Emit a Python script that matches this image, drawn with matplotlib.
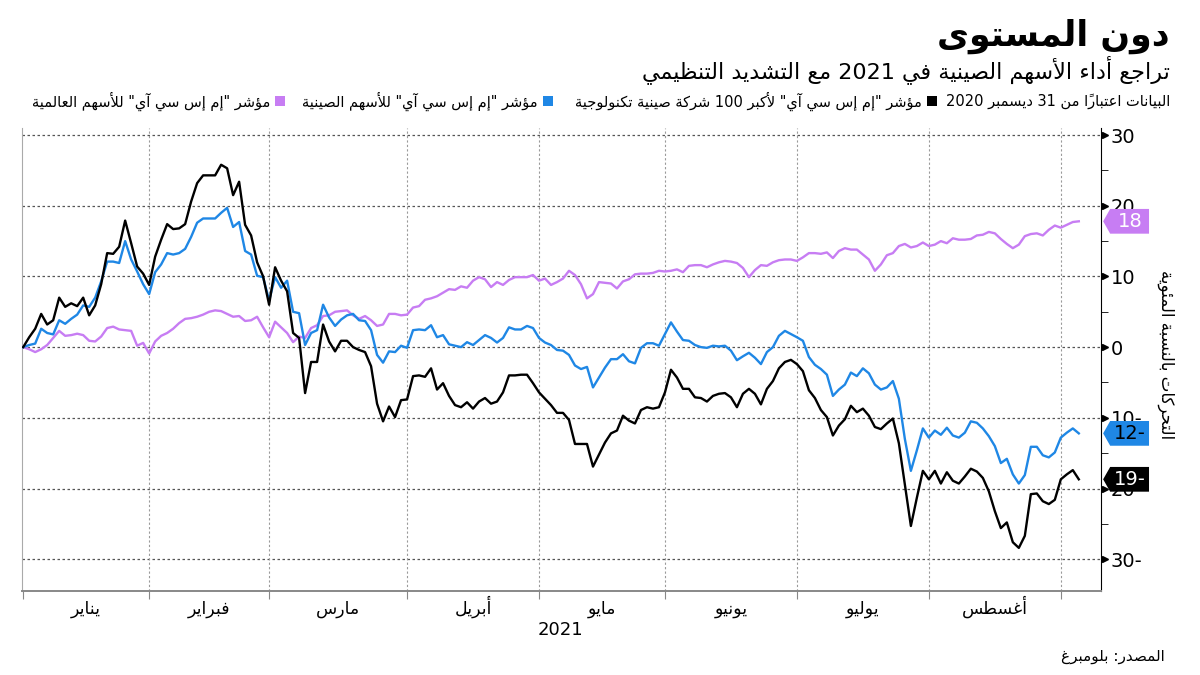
import matplotlib
matplotlib.use("Agg")
import matplotlib.pyplot as plt
from matplotlib.patches import Polygon, Rectangle
from matplotlib.ticker import MultipleLocator, FuncFormatter
import numpy as np
import pandas as pd

plt.rcParams['font.family'] = ['DejaVu Sans']

# texts
TITLE = "دون المستوى"
SUBTITLE = "تراجع أداء الأسهم الصينية في 2021 مع التشديد التنظيمي"
NOTE = "البيانات اعتباراً من 31 ديسمبر 2020"
LABELS = ['مؤشر "إم إس سي آي" لأكبر 100 شركة صينية تكنولوجية',
          'مؤشر "إم إس سي آي" للأسهم الصينية',
          'مؤشر "إم إس سي آي" للأسهم العالمية']
MONTHS = ["يناير", "فبراير", "مارس", "أبريل", "مايو", "يونيو", "يوليو", "أغسطس"]
YEAR = "2021"
YLABEL = "التحركات بالنسبة المئوية"
SOURCE = "المصدر: بلومبرغ"
COLORS = ["#000000", "#1f87e5", "#c77df3"]

# percent change since 31 Dec 2020, one value per business day
dates = pd.bdate_range("2020-12-31", "2021-09-03")
china_tech = [0, 1.4, 2.6, 4.7, 3.2, 3.8, 7.0, 5.7, 6.2, 5.8,
              7.0, 4.5, 5.9, 8.9, 13.3, 13.2, 14.2, 17.9, 14.7, 11.4,
              10.4, 8.8, 12.8, 15.2, 17.4, 16.7, 16.8, 17.4, 20.6, 23.2,
              24.3, 24.3, 24.3, 25.8, 25.3, 21.5, 23.4, 17.3, 15.8, 12.0,
              10.0, 6.0, 11.3, 9.4, 7.9, 2.0, 1.3, -6.5, -2.1, -2.1,
              3.2, 0.8, -0.6, 0.9, 0.9, 0.0, -0.4, -0.7, -2.7, -8.0,
              -10.5, -8.4, -9.9, -7.5, -7.4, -4.1, -4.0, -4.2, -3.0, -6.0,
              -5.1, -6.9, -8.2, -8.5, -7.8, -8.7, -7.7, -7.2, -8.0, -7.7,
              -6.4, -4.0, -4.0, -3.9, -3.9, -5.1, -6.4, -7.3, -8.2, -9.3,
              -9.3, -10.3, -13.7, -13.7, -13.7, -16.9, -15.2, -13.5, -12.2, -11.8,
              -9.7, -10.4, -10.8, -8.9, -8.5, -8.7, -8.5, -6.4, -3.2, -4.3,
              -5.9, -5.9, -7.1, -7.2, -7.7, -6.9, -6.6, -6.5, -7.1, -8.5,
              -6.6, -5.9, -6.6, -8.1, -5.9, -4.8, -3.0, -2.1, -1.8, -2.4,
              -3.4, -6.1, -7.2, -8.9, -9.9, -12.5, -11.1, -10.2, -8.3, -9.2,
              -8.7, -9.7, -11.3, -11.6, -10.8, -10.1, -13.6, -19.4, -25.3, -21.3,
              -17.5, -18.7, -17.5, -19.3, -17.7, -18.9, -19.3, -18.3, -17.2, -17.6,
              -18.5, -20.4, -23.2, -25.6, -24.8, -27.6, -28.4, -26.7, -20.8, -20.7,
              -21.8, -22.2, -21.6, -18.7, -18.0, -17.4, -18.7]
china = [0, 0.3, 0.5, 2.6, 2.0, 1.8, 3.8, 3.3, 4.0, 4.6,
         5.9, 5.7, 7.0, 9.3, 12.1, 12.1, 11.9, 15.0, 12.4, 10.7,
         8.9, 7.5, 10.6, 11.7, 13.3, 13.1, 13.3, 13.9, 15.6, 17.6,
         18.2, 18.2, 18.2, 19.0, 19.7, 17.0, 17.7, 13.6, 13.1, 10.1,
         9.9, 6.6, 9.9, 8.4, 9.4, 5.0, 4.8, 0.3, 2.0, 2.4,
         6.0, 4.2, 3.0, 3.9, 4.5, 4.7, 3.8, 3.7, 2.4, -1.1,
         -2.2, -0.6, -0.7, 0.2, -0.1, 2.4, 2.5, 2.4, 3.1, 1.4,
         1.7, 0.4, 0.2, 0.0, 0.7, 0.3, 1.0, 1.7, 1.3, 0.65,
         1.3, 2.8, 2.5, 2.5, 3.0, 2.7, 1.3, 0.65, 0.3, -0.4,
         -0.5, -1.1, -2.6, -3.1, -2.8, -5.7, -4.3, -2.9, -1.7, -1.7,
         -1.0, -2.0, -2.3, -0.1, 0.55, 0.55, 0.2, 1.85, 3.5, 2.2,
         1.0, 0.9, 0.3, 0.0, -0.1, 0.2, 0.1, 0.2, -0.5, -1.85,
         -1.3, -0.8, -1.5, -2.4, -0.7, 0.0, 1.6, 2.3, 1.85, 1.4,
         0.9, -1.4, -2.5, -3.1, -3.9, -6.9, -6.0, -5.3, -3.6, -4.1,
         -3.0, -3.7, -5.3, -6.0, -5.7, -4.8, -7.3, -13.0, -17.5, -14.6,
         -11.5, -12.8, -11.8, -12.4, -11.4, -12.5, -12.8, -12.1, -10.5, -10.7,
         -11.5, -12.6, -14.0, -16.4, -15.8, -18.0, -19.3, -18.1, -14.1, -14.1,
         -15.3, -15.6, -14.9, -12.8, -12.1, -11.5, -12.2]
world = [0, -0.3, -0.7, -0.3, 0.3, 1.3, 2.3, 1.6, 1.7, 1.9,
         1.7, 0.9, 0.8, 1.5, 2.7, 2.9, 2.5, 2.4, 2.3, 0.2,
         0.6, -0.9, 0.8, 1.6, 2.0, 2.6, 3.4, 4.0, 4.1, 4.3,
         4.6, 5.0, 5.2, 5.1, 4.7, 4.3, 4.4, 3.7, 3.8, 4.3,
         2.8, 1.4, 3.6, 2.8, 2.0, 0.7, 1.5, 1.3, 2.7, 3.1,
         4.4, 4.5, 5.0, 5.1, 5.2, 4.5, 4.0, 4.4, 3.8, 3.0,
         3.2, 4.7, 4.7, 4.5, 4.6, 5.6, 5.8, 6.7, 6.9, 7.2,
         7.7, 8.2, 8.1, 8.6, 8.4, 9.4, 9.9, 9.6, 8.5, 9.2,
         8.8, 9.5, 9.9, 9.9, 9.9, 10.2, 9.4, 9.7, 8.8, 9.2,
         9.7, 10.8, 10.2, 8.9, 6.9, 7.5, 9.2, 9.1, 9.0, 8.3,
         9.3, 9.6, 10.3, 10.4, 10.4, 10.5, 10.8, 10.7, 10.8, 11.0,
         10.6, 11.5, 11.6, 11.6, 11.3, 11.7, 12.0, 12.2, 12.1, 11.9,
         11.2, 9.9, 10.9, 11.6, 11.5, 12.0, 12.3, 12.4, 12.4, 12.2,
         12.7, 13.3, 13.3, 13.2, 13.4, 12.6, 13.6, 14.0, 13.8, 13.8,
         13.1, 12.4, 10.8, 11.7, 13.0, 13.3, 14.3, 14.6, 14.1, 14.3,
         14.8, 14.3, 14.5, 15.0, 14.7, 15.4, 15.2, 15.2, 15.3, 15.8,
         15.9, 16.3, 16.1, 15.3, 14.6, 14.0, 14.5, 15.7, 16.0, 16.1,
         15.8, 16.6, 17.2, 16.9, 17.3, 17.7, 17.8]
yticks = [-30, -20, -10, 0, 10, 20, 30]

# ---- arabic shaping: matplotlib does no joining and no right-to-left ----
DUAL = {'ئ': 0xFE89, 'ب': 0xFE8F, 'ت': 0xFE95, 'ث': 0xFE99, 'ج': 0xFE9D,
        'ح': 0xFEA1, 'خ': 0xFEA5, 'س': 0xFEB1, 'ش': 0xFEB5, 'ص': 0xFEB9,
        'ض': 0xFEBD, 'ط': 0xFEC1, 'ظ': 0xFEC5, 'ع': 0xFEC9, 'غ': 0xFECD,
        'ف': 0xFED1, 'ق': 0xFED5, 'ك': 0xFED9, 'ل': 0xFEDD, 'م': 0xFEE1,
        'ن': 0xFEE5, 'ه': 0xFEE9, 'ي': 0xFEF1}
RIGHT = {'آ': 0xFE81, 'أ': 0xFE83, 'ؤ': 0xFE85, 'إ': 0xFE87, 'ا': 0xFE8D,
         'ة': 0xFE93, 'د': 0xFEA9, 'ذ': 0xFEAB, 'ر': 0xFEAD, 'ز': 0xFEAF,
         'و': 0xFEED, 'ى': 0xFEEF}
LAMALEF = {'آ': 0xFEF5, 'أ': 0xFEF7, 'إ': 0xFEF9, 'ا': 0xFEFB}
MARKS = set('\u064b\u064c\u064d\u064e\u064f\u0650\u0651\u0652')


def shape(text):
    n = len(text)
    glyphs = []
    i = 0
    while i < n:
        c = text[i]
        if c in MARKS:
            glyphs[-1] += c
            i += 1
            continue
        j = i - 1
        while j >= 0 and text[j] in MARKS:
            j -= 1
        prev = text[j] if j >= 0 else None
        k = i + 1
        while k < n and text[k] in MARKS:
            k += 1
        nxt = text[k] if k < n else None
        join_prev = prev in DUAL
        if c == 'ل' and nxt in LAMALEF:
            glyphs.append(chr(LAMALEF[nxt] + (1 if join_prev else 0)))
            i = k + 1
            continue
        if c in DUAL:
            join_next = nxt in DUAL or nxt in RIGHT
            form = 3 if (join_prev and join_next) else 1 if join_prev else 2 if join_next else 0
            glyphs.append(chr(DUAL[c] + form))
        elif c in RIGHT:
            glyphs.append(chr(RIGHT[c] + (1 if join_prev else 0)))
        elif c == 'ء':
            glyphs.append('\uFE80')
        else:
            glyphs.append(c)
        i += 1
    # reverse for display, numbers stay left to right
    units = []
    for g in glyphs:
        if g.isdigit() and units and units[-1][-1].isdigit():
            units[-1] += g
        else:
            units.append(g)
    return ''.join(reversed(units))


x = np.arange(len(dates))
month_ends = [0] + [int(np.where(dates.month == m)[0][-1]) for m in range(1, 9)]

fig = plt.figure(figsize=(12, 6.75), dpi=100)
ax = fig.add_axes([22 / 1200, 1 - 591 / 675, 1079 / 1200, 463 / 675])

for yt in yticks:
    ax.axhline(yt, color="#555555", lw=0.9, ls=(0, (2, 2)), zorder=1)
for me in month_ends[1:]:
    ax.axvline(me, color="#9a9a9a", lw=0.8, ls=(0, (2, 2)), zorder=1)

series = [china_tech, china, world]
for vals, col in zip(series[::-1], COLORS[::-1]):
    ax.plot(x, vals, color=col, lw=1.7, zorder=3)

ax.set_xlim(-0.2, 179.7)
ax.set_ylim(-34.5, 31.0)

ax.spines["top"].set_visible(False)
ax.spines["left"].set_color("#aaaaaa")
ax.spines["bottom"].set_color("#888888")
ax.spines["bottom"].set_linewidth(1.4)
ax.spines["right"].set_color("black")

ax.set_xticks(month_ends)
ax.set_xticklabels([])
ax.tick_params(axis="x", length=6, color="#888888")

ax.yaxis.tick_right()
ax.set_yticks(yticks)
ax.yaxis.set_minor_locator(MultipleLocator(5))
ax.yaxis.set_major_formatter(FuncFormatter(lambda v, p: f"{abs(int(v))}-" if v < 0 else f"{int(v)}"))
ax.tick_params(axis="y", which="major", length=0, pad=7, labelsize=14)
ax.tick_params(axis="y", which="minor", length=5, color="black")
ytr = ax.get_yaxis_transform()
ax.plot([1.0035] * len(yticks), yticks, ls="none", marker=">", ms=5, color="black",
        transform=ytr, clip_on=False, zorder=5)

# month names between the ticks
for m, name in enumerate(MONTHS):
    ax.text((month_ends[m] + month_ends[m + 1]) / 2, -0.05, shape(name),
            transform=ax.get_xaxis_transform(), ha="center", va="baseline", fontsize=12.5)
fig.text(560 / 1200, 1 - 630 / 675, YEAR, ha="center", va="center", fontsize=13)

# value tags on the right axis
text_cols = ["white", "black", "white"]
for vals, col, tc in zip(series, COLORS, text_cols):
    v = vals[-1]
    r = int(round(v))
    h = 1.75
    tag = Polygon([(1.002, v), (1.0085, v + h), (1.0445, v + h), (1.0445, v - h), (1.0085, v - h)],
                  closed=True, transform=ytr, facecolor=col, edgecolor="none",
                  clip_on=False, zorder=6)
    ax.add_patch(tag)
    ax.text(1.027, v, f"{abs(r)}-" if r < 0 else f"{r}", transform=ytr, ha="center",
            va="center", fontsize=14, color=tc, zorder=7, clip_on=False)

fig.text(1166 / 1200, 1 - 355 / 675, shape(YLABEL), rotation=-90, ha="center", va="center",
         fontsize=12)

# header
fig.text(1170 / 1200, 1 - 36 / 675, shape(TITLE), ha="right", va="center", fontsize=25,
         fontweight="bold")
fig.text(1170 / 1200, 1 - 70 / 675, shape(SUBTITLE), ha="right", va="center", fontsize=16)
row_y = 1 - 101 / 675
fig.text(1170 / 1200, row_y, shape(NOTE), ha="right", va="center", fontsize=10.5)
for sq_x, lab, col in zip([932, 548, 280], LABELS, COLORS):
    fig.patches.append(Rectangle(((sq_x - 5) / 1200, row_y - 5 / 675), 10 / 1200, 10 / 675,
                                 transform=fig.transFigure, facecolor=col, edgecolor="none"))
    fig.text((sq_x - 10) / 1200, row_y, shape(lab), ha="right", va="center", fontsize=10.5)

fig.text(1165 / 1200, 1 - 657 / 675, shape(SOURCE), ha="right", va="center", fontsize=11)

fig.savefig("out.png", dpi=100)
